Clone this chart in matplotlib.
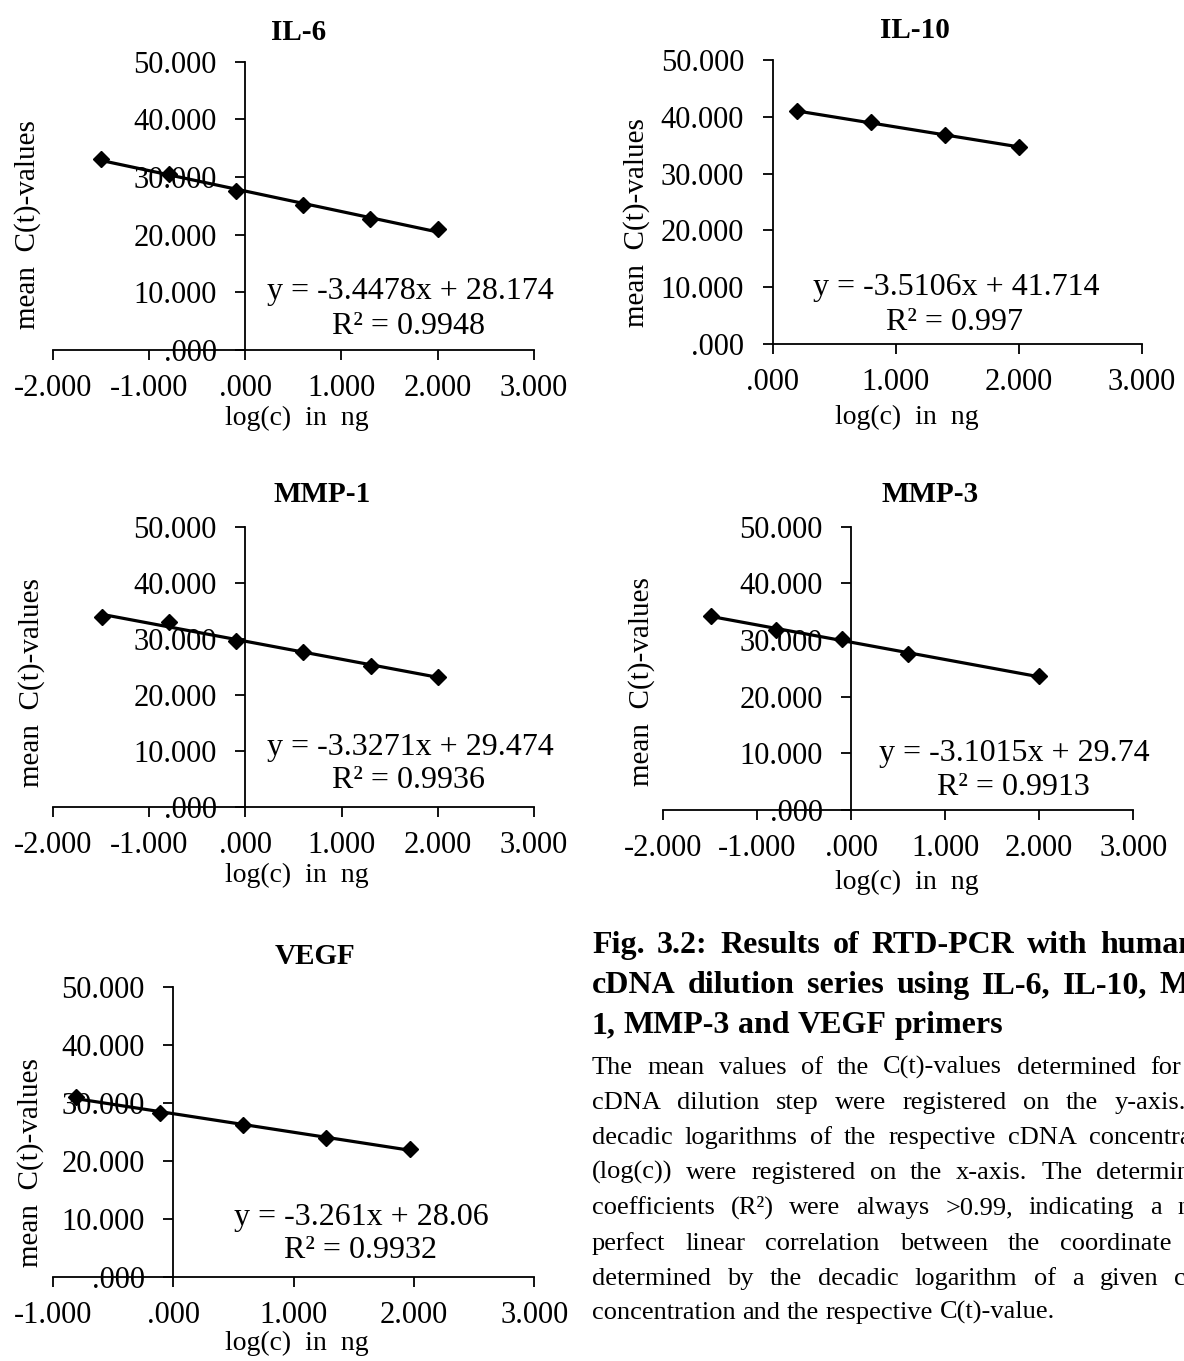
import numpy as np
import matplotlib
matplotlib.use("Agg")
import matplotlib.pyplot as plt
from matplotlib.ticker import FuncFormatter

plt.rcParams["font.family"] = ["Liberation Serif", "DejaVu Serif"]

W, H = 1184, 1361

# values
il6_x = [-1.495, -0.796, -0.097, 0.602, 1.301, 2.0]
il6_y = [33.1, 30.5, 27.6, 25.2, 22.7, 20.9]
il10_x = [0.194, 0.796, 1.398, 2.0]
il10_y = [41.0, 39.0, 36.8, 34.7]
mmp1_x = [-1.495, -0.796, -0.097, 0.602, 1.301, 2.0]
mmp1_y = [33.9, 32.9, 29.6, 27.7, 25.1, 23.2]
mmp3_x = [-1.495, -0.796, -0.097, 0.602, 2.0]
mmp3_y = [34.3, 31.8, 30.2, 27.5, 23.6]
vegf_x = [-0.81, -0.11, 0.58, 1.27, 1.97]
vegf_y = [31.1, 28.2, 26.2, 23.9, 22.1]

titles = ["IL-6", "IL-10", "MMP-1", "MMP-3", "VEGF"]
equations = ["y = -3.4478x + 28.174", "y = -3.5106x + 41.714",
             "y = -3.3271x + 29.474", "y = -3.1015x + 29.74",
             "y = -3.261x + 28.06"]
r_squared = ["R² = 0.9948", "R² = 0.997", "R² = 0.9936", "R² = 0.9913",
             "R² = 0.9932"]
x_ranges = [(-2, 3), (0, 3), (-2, 3), (-2, 3), (-1, 3)]
y_ticks = [0, 10, 20, 30, 40, 50]

caption_title = [
    "Fig. 3.2: Results of RTD-PCR with human",
    "cDNA dilution series using IL-6, IL-10, MMP-",
    "1, MMP-3 and VEGF primers",
]
caption_body = [
    "The mean values of the C(t)-values determined for each",
    "cDNA dilution step were registered on the y-axis. The",
    "decadic logarithms of the respective cDNA concentrations",
    "(log(c)) were registered on the x-axis. The determination",
    "coefficients (R²) were always >0.99, indicating a nearly",
    "perfect linear correlation between the coordinate pairs",
    "determined by the decadic logarithm of a given cDNA",
    "concentration and the respective C(t)-value.",
]

series = [(il6_x, il6_y), (il10_x, il10_y), (mmp1_x, mmp1_y),
          (mmp3_x, mmp3_y), (vegf_x, vegf_y)]

# pixel layout: plot box (left, right, top, bottom), title, y label, x label, eq
layout = [
    dict(box=(52.7, 534, 61.7, 350), title=(299, 32), ylab=(28, 225),
         xlab=(297, 418), eq=(410, 292), r2=(409, 327)),
    dict(box=(772.7, 1141.7, 60, 344), title=(915, 30), ylab=(637, 223),
         xlab=(907, 417), eq=(956, 288), r2=(955, 322)),
    dict(box=(53, 534, 526.7, 806.7), title=(322, 495), ylab=(32, 683),
         xlab=(297, 875), eq=(410, 748), r2=(409, 780)),
    dict(box=(663, 1133.3, 526.7, 810), title=(930, 495), ylab=(642, 682),
         xlab=(907, 882), eq=(1014, 753), r2=(1013, 788)),
    dict(box=(53, 534.4, 987.3, 1276.7), title=(315, 957), ylab=(31, 1163),
         xlab=(297, 1343), eq=(361, 1217), r2=(360, 1250)),
]


def fx(px):
    return px / W


def fy(py):
    return 1 - py / H


def tick_fmt(v, pos):
    s = f"{v:.3f}"
    if s.startswith("0."):
        s = s[1:]
    return s


fig = plt.figure(figsize=(W / 100, H / 100), dpi=100)

for i, (xs, ys) in enumerate(series):
    lay = layout[i]
    l, r, t, b = lay["box"]
    ax = fig.add_axes([fx(l), fy(b), (r - l) / W, (b - t) / H])
    ax.set_xlim(*x_ranges[i])
    ax.set_ylim(0, 50)
    ax.patch.set_visible(False)

    # linear trendline between first and last point
    k, d = np.polyfit(xs, ys, 1)
    xl = np.array([min(xs), max(xs)])
    ax.plot(xl, k * xl + d, color="black", lw=2.3, zorder=3)
    ax.plot(xs, ys, linestyle="none", marker="D", ms=7.8, color="black",
            zorder=4, clip_on=False)

    for s in ["top", "right"]:
        ax.spines[s].set_visible(False)
    ax.spines["left"].set_position(("data", 0))
    ax.spines["left"].set_linewidth(1.3)
    ax.spines["bottom"].set_linewidth(1.3)
    ax.set_xticks(range(x_ranges[i][0], x_ranges[i][1] + 1))
    ax.set_yticks(y_ticks)
    ax.xaxis.set_major_formatter(FuncFormatter(tick_fmt))
    ax.yaxis.set_major_formatter(FuncFormatter(tick_fmt))
    ax.tick_params(direction="out", length=7.5, width=1.3, labelsize=22,
                   colors="black")
    ax.tick_params(axis="y", pad=13)
    ax.tick_params(axis="x", pad=10)

    fig.text(fx(lay["title"][0]), fy(lay["title"][1]), titles[i],
             fontsize=21, weight="bold", ha="center", va="center")
    fig.text(fx(lay["ylab"][0]), fy(lay["ylab"][1]), "mean  C(t)-values",
             fontsize=21, rotation=90, ha="center", va="center")
    fig.text(fx(lay["xlab"][0]), fy(lay["xlab"][1]), "log(c)  in  ng",
             fontsize=20, ha="center", va="center")
    fig.text(fx(lay["eq"][0]), fy(lay["eq"][1]), equations[i],
             fontsize=23, ha="center", va="center")
    fig.text(fx(lay["r2"][0]), fy(lay["r2"][1]), r_squared[i],
             fontsize=23, ha="center", va="center")

# caption block, justified like the source document
renderer = fig.canvas.get_renderer()


def put_line(line, left, right, base, size, weight, justify):
    words = line.split()
    texts = [fig.text(0, fy(base), w, fontsize=size, weight=weight,
                      ha="left", va="baseline") for w in words]
    widths = [tx.get_window_extent(renderer).width for tx in texts]
    space = 0.25 * size * 100 / 72
    gap = space
    if justify and len(words) > 1:
        gap = max(space, (right - left - sum(widths)) / (len(words) - 1))
    x = left
    for tx, w in zip(texts, widths):
        tx.set_x(fx(x))
        x += w + gap


cap_left = 592
title_base = [953, 993, 1033]
title_right = [1196, 1250, None]
for j, line in enumerate(caption_title):
    put_line(line, cap_left, title_right[j] or 0, title_base[j], 23, "bold",
             title_right[j] is not None)

body_base = [1074, 1109, 1144, 1179, 1214, 1250, 1285, 1319]
for j, line in enumerate(caption_body):
    put_line(line, cap_left, 1243, body_base[j], 19, "normal",
             j < len(caption_body) - 1)

fig.savefig("out.png", dpi=100)
